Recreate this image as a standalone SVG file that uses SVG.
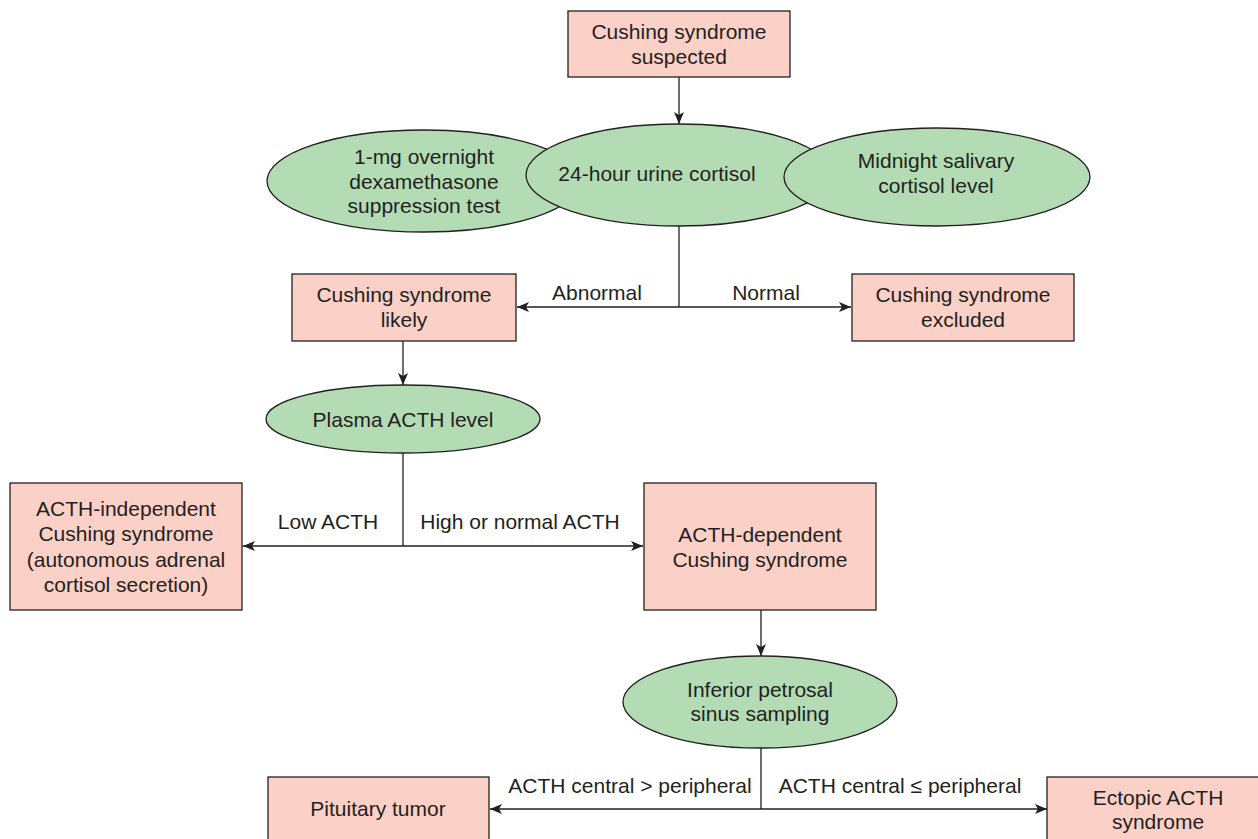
<svg xmlns="http://www.w3.org/2000/svg" width="1258" height="839" viewBox="0 0 1258 839">
  <style>
    .box { fill: #FBD0C6; stroke: #231F20; stroke-width: 1.3; }
    .oval { fill: #B3DCB5; stroke: #231F20; stroke-width: 1.3; }
    .line { fill: none; stroke: #231F20; stroke-width: 1.3; }
    text { font-family: "Liberation Sans", Arial, sans-serif; font-size: 21px; fill: #231F20; text-anchor: middle; }
  </style>
  <defs>
    <marker id="arrow" viewBox="0 0 12 10" refX="12" refY="5" markerWidth="12" markerHeight="10" markerUnits="userSpaceOnUse" orient="auto">
      <path d="M0,0 L12,5 L0,10 L3,5 Z" fill="#231F20"/>
    </marker>
  </defs>

  <rect width="1258" height="839" fill="#FFFFFF"/>

  <!-- connectors -->
  <g id="connectors">
    <line class="line" x1="679" y1="77" x2="679" y2="124" marker-end="url(#arrow)"/>
    <line class="line" x1="679" y1="226" x2="679" y2="307"/>
    <line class="line" x1="679" y1="307" x2="517" y2="307" marker-end="url(#arrow)"/>
    <line class="line" x1="679" y1="307" x2="851" y2="307" marker-end="url(#arrow)"/>
    <line class="line" x1="403" y1="341" x2="403" y2="385" marker-end="url(#arrow)"/>
    <line class="line" x1="403" y1="453" x2="403" y2="546"/>
    <line class="line" x1="403" y1="546" x2="243" y2="546" marker-end="url(#arrow)"/>
    <line class="line" x1="403" y1="546" x2="643" y2="546" marker-end="url(#arrow)"/>
    <line class="line" x1="761" y1="610" x2="761" y2="656" marker-end="url(#arrow)"/>
    <line class="line" x1="761" y1="748" x2="761" y2="809"/>
    <line class="line" x1="761" y1="809" x2="490" y2="809" marker-end="url(#arrow)"/>
    <line class="line" x1="761" y1="809" x2="1047" y2="809" marker-end="url(#arrow)"/>
    <text x="597" y="300">Abnormal</text>
    <text x="766" y="300">Normal</text>
    <text x="328" y="529">Low ACTH</text>
    <text x="520" y="529">High or normal ACTH</text>
    <text x="630" y="793">ACTH central &gt; peripheral</text>
    <text x="900" y="793">ACTH central ≤ peripheral</text>
  </g>

  <g id="suspected">
    <rect class="box" x="568" y="11" width="222" height="66"/>
    <text x="679" y="39">Cushing syndrome</text>
    <text x="679" y="64">suspected</text>
  </g>

  <g id="dex-test">
    <ellipse class="oval" cx="424" cy="181" rx="157" ry="51"/>
    <text x="424" y="164">1-mg overnight</text>
    <text x="424" y="189">dexamethasone</text>
    <text x="424" y="213">suppression test</text>
  </g>

  <g id="urine-cortisol">
    <ellipse class="oval" cx="679" cy="175" rx="153" ry="51"/>
    <text x="657" y="181">24-hour urine cortisol</text>
  </g>

  <g id="salivary-cortisol">
    <ellipse class="oval" cx="937" cy="177" rx="153" ry="49"/>
    <text x="936" y="168">Midnight salivary</text>
    <text x="936" y="193">cortisol level</text>
  </g>

  <g id="likely">
    <rect class="box" x="292" y="274" width="224" height="67"/>
    <text x="404" y="302">Cushing syndrome</text>
    <text x="404" y="327">likely</text>
  </g>

  <g id="excluded">
    <rect class="box" x="852" y="274" width="222" height="67"/>
    <text x="963" y="302">Cushing syndrome</text>
    <text x="963" y="327">excluded</text>
  </g>

  <g id="plasma-acth">
    <ellipse class="oval" cx="403" cy="419" rx="137" ry="34"/>
    <text x="403" y="427">Plasma ACTH level</text>
  </g>

  <g id="acth-independent">
    <rect class="box" x="10" y="483" width="232" height="127"/>
    <text x="126" y="516">ACTH-independent</text>
    <text x="126" y="541">Cushing syndrome</text>
    <text x="126" y="567">(autonomous adrenal</text>
    <text x="126" y="592">cortisol secretion)</text>
  </g>

  <g id="acth-dependent">
    <rect class="box" x="644" y="483" width="232" height="127"/>
    <text x="760" y="542">ACTH-dependent</text>
    <text x="760" y="567">Cushing syndrome</text>
  </g>

  <g id="ipss">
    <ellipse class="oval" cx="760" cy="702" rx="137" ry="46"/>
    <text x="760" y="697">Inferior petrosal</text>
    <text x="760" y="721">sinus sampling</text>
  </g>

  <g id="pituitary">
    <rect class="box" x="268" y="777" width="221" height="80"/>
    <text x="378" y="816">Pituitary tumor</text>
  </g>

  <g id="ectopic">
    <rect class="box" x="1047" y="777" width="230" height="80"/>
    <text x="1158" y="805">Ectopic ACTH</text>
    <text x="1158" y="829">syndrome</text>
  </g>
</svg>
